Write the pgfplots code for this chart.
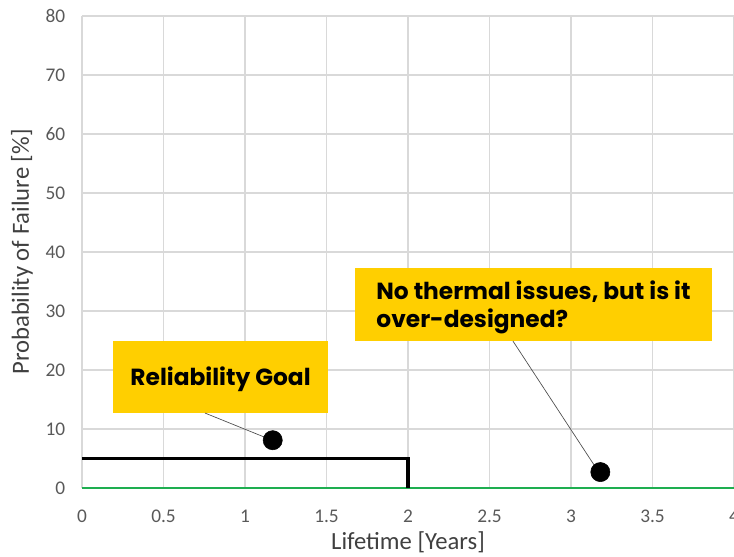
\documentclass[border=0pt]{standalone}
\usepackage{pgfplots}
\pgfplotsset{compat=1.18}
\usepackage{fontspec}
\setmainfont{Carlito}
\newfontfamily\callout{Poppins}
\definecolor{gridc}{HTML}{D9D9D9}
\definecolor{tickc}{HTML}{595959}
\definecolor{labc}{HTML}{404040}
\definecolor{goldc}{HTML}{FFCF00}
\definecolor{greenc}{HTML}{1EAE50}
\begin{document}
\begin{tikzpicture}
\begin{axis}[
  at={(0,0)}, anchor=south west,
  scale only axis, width=489pt, height=354pt,
  xmin=0, xmax=4, ymin=0, ymax=80,
  xtick={0,0.5,...,4}, ytick={0,10,...,80},
  xticklabels={0,0.5,1,1.5,2,2.5,3,3.5,4},
  grid=major, grid style={gridc, line width=0.8pt},
  axis line style={draw=none},
  major tick length=0pt,
  tick label style={font=\fontsize{14.5}{16}\selectfont, text=tickc},
  /pgf/number format/assume math mode=true,
  xticklabel style={anchor=center, yshift=-21pt},
  yticklabel style={anchor=east, xshift=-9pt},
  xlabel={Lifetime [Years]}, ylabel={Probability of Failure [\%]},
  label style={font=\fontsize{18.5}{20}\selectfont, text=labc},
  xlabel style={at={(axis description cs:0.5,0)}, anchor=center, yshift=-41pt},
  ylabel style={at={(axis description cs:0,0.5)}, anchor=center, yshift=45pt},
  clip=false,
]
\addplot[greenc, line width=1.6pt] coordinates {(0,0) (4,0)};
\addplot[black, line width=2.4pt] coordinates {(0,5) (2,5) (2,0)};
% callout boxes
\fill[goldc] (axis cs:0.19,12.7) rectangle (axis cs:1.51,24.9);
\node[font=\callout\bfseries\fontsize{17.5}{21}\selectfont] at (axis cs:0.85,18.4) {Reliability Goal};
\fill[goldc] (axis cs:1.675,24.9) rectangle (axis cs:3.865,37.3);
\node[font=\callout\bfseries\fontsize{17.5}{21}\selectfont, align=left] at (axis cs:2.77,30.6) {No thermal issues, but is it\\over-designed?};
\draw[black!70, line width=0.5pt] (axis cs:0.755,12.7) -- (axis cs:1.166,8.1);
\draw[black!70, line width=0.5pt] (axis cs:2.644,24.9) -- (axis cs:3.17,2.7);
\addplot[only marks, mark=*, mark size=7.2pt, black] coordinates {(1.17,8.1) (3.18,2.7)};
\end{axis}
\pgfresetboundingbox
\useasboundingbox (-61.5pt,-51pt) rectangle (489pt,366pt);
\end{tikzpicture}
\end{document}
